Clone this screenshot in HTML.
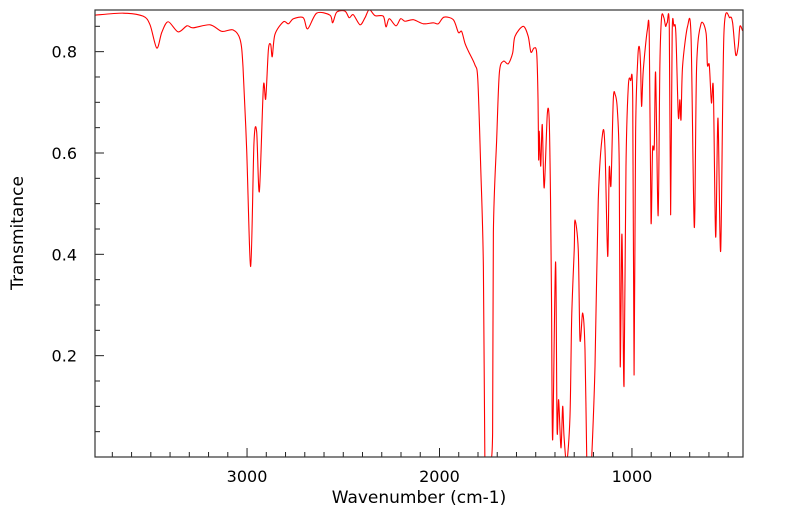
<!DOCTYPE html>
<html><head><meta charset="utf-8"><style>
html,body{margin:0;padding:0;background:#fff;}
svg{display:block;font-family:"DejaVu Sans","Liberation Sans",sans-serif;}
</style></head><body>
<svg id="chart" width="799" height="516" viewBox="0 0 799 516" xmlns="http://www.w3.org/2000/svg">
<defs><clipPath id="pc"><rect x="95" y="10" width="648" height="447"/></clipPath></defs>
<rect x="0" y="0" width="799" height="516" fill="#fff"/>
<g id="ticks"></g>
<path id="spec" fill="none" stroke="#ff0000" stroke-width="1.1" stroke-linejoin="round" clip-path="url(#pc)"/>
<rect x="95" y="10" width="648" height="447" fill="none" stroke="#333" stroke-width="1.2"/>
<text x="23" y="233" font-size="17" text-anchor="middle" transform="rotate(-90 23 233)">Transmitance</text>
<text x="419" y="503" font-size="17" text-anchor="middle">Wavenumber (cm-1)</text>
</svg>
<script>
const wavenumbers=[3790,3644,3540,3504,3469,3443,3410,3358,3312,3281,3192,3131,3073,3036,3021,3002,2981,2964,2950,2936,2915,2903,2889,2877,2869,2855,2811,2785,2759,2708,2685,2638,2569,2555,2534,2491,2469,2448,2413,2387,2365,2335,2292,2278,2261,2226,2202,2179,2136,2084,2032,2006,1977,1928,1902,1885,1868,1850,1816,1801,1786,1772,1764,1753,1738,1724,1720,1703,1689,1668,1643,1620,1608,1565,1539,1525,1509,1495,1488,1485,1482,1474,1466,1456,1440,1430,1423,1418,1412,1397,1389,1381,1369,1360,1353,1339,1322,1313,1300,1296,1279,1270,1256,1244,1235,1229,1218,1209,1192,1175,1152,1140,1126,1118,1109,1097,1087,1076,1066,1061,1053,1048,1041,1031,1019,1007,996,989,981,970,962,955,950,941,920,910,901,893,884,877,864,855,846,834,825,817,806,799,791,782,772,759,751,745,737,711,693,676,664,641,615,608,598,587,577,565,553,539,522,491,477,461,448,439,425];
const transmittance=[0.872,0.876,0.870,0.853,0.807,0.838,0.859,0.839,0.851,0.847,0.853,0.840,0.843,0.824,0.770,0.607,0.376,0.620,0.642,0.524,0.731,0.707,0.804,0.814,0.790,0.834,0.859,0.855,0.865,0.867,0.845,0.876,0.872,0.857,0.878,0.880,0.867,0.873,0.853,0.867,0.883,0.871,0.870,0.849,0.865,0.851,0.865,0.860,0.863,0.855,0.857,0.855,0.868,0.863,0.838,0.840,0.817,0.801,0.774,0.745,0.574,0.376,-0.02,-0.1,-0.02,0.048,0.443,0.626,0.758,0.781,0.776,0.797,0.830,0.850,0.830,0.799,0.807,0.797,0.705,0.587,0.643,0.574,0.656,0.531,0.676,0.666,0.508,0.310,0.034,0.385,0.054,0.113,0.018,0.100,0.041,-0.01,0.080,0.277,0.409,0.468,0.409,0.231,0.284,0.212,0.0,-0.05,-0.05,0.0,0.179,0.508,0.640,0.607,0.396,0.570,0.537,0.705,0.715,0.686,0.574,0.179,0.435,0.343,0.143,0.574,0.731,0.743,0.705,0.162,0.640,0.784,0.810,0.771,0.692,0.764,0.843,0.830,0.465,0.607,0.613,0.758,0.476,0.771,0.868,0.867,0.850,0.857,0.847,0.478,0.837,0.850,0.837,0.672,0.705,0.666,0.771,0.850,0.830,0.453,0.771,0.855,0.837,0.774,0.773,0.699,0.726,0.434,0.669,0.407,0.837,0.867,0.857,0.794,0.810,0.850,0.841];
const xTickLabels=[3000,2000,1000];
const yTickLabels=[0.2,0.4,0.6,0.8];

const X0=95,X1=743,Y0=10,Y1=457;
const WMAX=3790,WMIN=423,TMIN=0,TMAX=0.8822;
function xs(w){return X0+(WMAX-w)/(WMAX-WMIN)*(X1-X0);}
function ys(t){return Y1-(t-TMIN)/(TMAX-TMIN)*(Y1-Y0);}
const NS="http://www.w3.org/2000/svg";
const svg=document.getElementById('chart');
const tg=document.getElementById('ticks');
function line(x1,y1,x2,y2,name){
  const l=document.createElementNS(NS,'line');
  l.setAttribute('x1',x1);l.setAttribute('y1',y1);l.setAttribute('x2',x2);l.setAttribute('y2',y2);
  l.setAttribute('stroke','#222');l.setAttribute('stroke-width','1');
  
  
  tg.appendChild(l);
}
function text(x,y,s,anchor,name){
  const t=document.createElementNS(NS,'text');
  t.setAttribute('x',x);t.setAttribute('y',y);t.setAttribute('font-size','16');
  t.setAttribute('text-anchor',anchor);t.textContent=s;
  
  
  svg.appendChild(t);
}
for(let w=3700;w>=WMIN;w-=100){
  const major=(w%1000===0);
  line(xs(w),Y1,xs(w),Y1-(major?9:5),'x-tick');
}
xTickLabels.forEach(w=>text(xs(w),482,String(w),'middle','x-tick-label'));
for(let i=1;i<=17;i++){
  const t=i*0.05;
  const major=(i%4===0);
  line(X0,ys(t),X0+(major?9:5),ys(t),'y-tick');
}
yTickLabels.forEach(t=>text(77,ys(t)+6,t.toFixed(1),'end','y-tick-label'));
const P=wavenumbers.map((w,i)=>[xs(w),ys(transmittance[i])]);
let d='M'+P[0][0].toFixed(2)+','+P[0][1].toFixed(2);
const k=0.3;
for(let i=0;i<P.length-1;i++){
  const p0=P[Math.max(0,i-1)],p1=P[i],p2=P[i+1],p3=P[Math.min(P.length-1,i+2)];
  const c1x=p1[0]+(p2[0]-p0[0])*k/2, c1y=p1[1]+(p2[1]-p0[1])*k/2;
  const c2x=p2[0]-(p3[0]-p1[0])*k/2, c2y=p2[1]-(p3[1]-p1[1])*k/2;
  d+='C'+c1x.toFixed(2)+','+c1y.toFixed(2)+' '+c2x.toFixed(2)+','+c2y.toFixed(2)+' '+p2[0].toFixed(2)+','+p2[1].toFixed(2);
}
document.getElementById('spec').setAttribute('d',d);
</script>
</body></html>
